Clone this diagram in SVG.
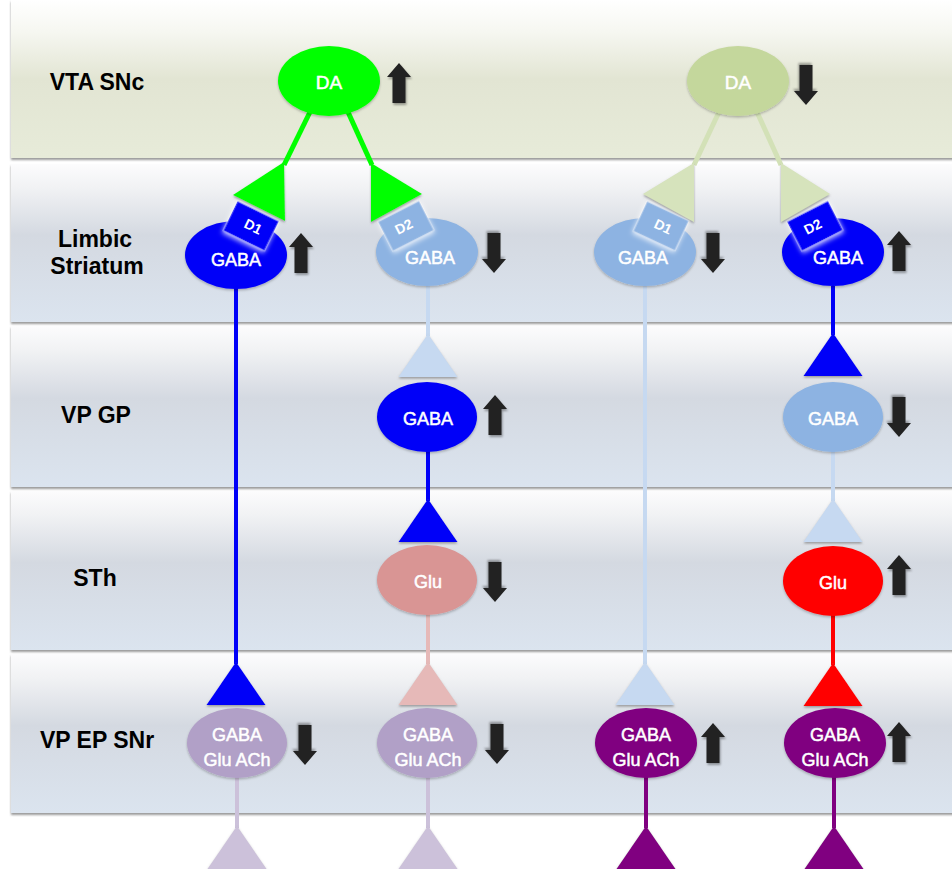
<svg xmlns="http://www.w3.org/2000/svg" xmlns:xlink="http://www.w3.org/1999/xlink" width="952" height="869" viewBox="0 0 952 869">
<defs>
<style>
.lbl{font-family:"Liberation Sans",Arial,sans-serif;font-weight:bold;font-size:23px;fill:#000;text-anchor:middle}
.nt{font-family:"Liberation Sans",Arial,sans-serif;font-size:18px;fill:#fff;stroke:#fff;stroke-width:0.5;text-anchor:middle}
.rt{font-family:"Liberation Sans",Arial,sans-serif;font-weight:bold;font-size:14px;fill:#fff;text-anchor:middle}
.band{fill:url(#gBand);filter:url(#bandSh)}
.arr{fill:#222;filter:url(#arrSh)}
.ell{filter:url(#ellSh)}
.tri{filter:url(#triSh)}
.box{stroke:#fff;stroke-opacity:0.35;stroke-width:1.5;filter:url(#boxGlow)}
.ln{fill:none;stroke-width:4}
.lnd{fill:none;stroke-width:5}
.green{fill:#00ff00}.sgreen{stroke:#00ff00}
.pale{fill:#c4d79c}.ppale{fill:#d6e3bc}.spale{stroke:#d3e1b7}
.blue{fill:#0000f8}.sblue{stroke:#0000f8}
.lblue{fill:#8db3e2}.llblue{fill:#c6d9f1}.slblue{stroke:#c6d9f1}
.pink{fill:#d99594}.lpink{fill:#e6b9b8}.spink{stroke:#e6b9b8}
.red{fill:#ff0000}.sred{stroke:#ff0000}
.lav{fill:#b1a0c7}.llav{fill:#ccc1da}.slav{stroke:#ccc1da}
.pur{fill:#800080}.spur{stroke:#800080}
</style>
<linearGradient id="gBand" x1="0" y1="0" x2="0" y2="1">
<stop offset="0" stop-color="#fcfcfd"/>
<stop offset="0.15" stop-color="#f1f2f4"/>
<stop offset="0.45" stop-color="#d4d9e1"/>
<stop offset="1" stop-color="#dbe4ef"/>
</linearGradient>
<linearGradient id="gTop" x1="0" y1="0" x2="0" y2="1">
<stop offset="0" stop-color="#ffffff"/>
<stop offset="0.2" stop-color="#f6f7f1"/>
<stop offset="0.5" stop-color="#e2e5d3"/>
<stop offset="1" stop-color="#e7ebd9"/>
</linearGradient>
<filter id="bandSh" x="-5%" y="-10%" width="110%" height="125%">
<feDropShadow dx="0" dy="2" stdDeviation="1.2" flood-color="#555" flood-opacity="0.6"/>
</filter>
<filter id="arrSh" x="-30%" y="-30%" width="170%" height="170%">
<feDropShadow dx="1" dy="2" stdDeviation="1.2" flood-color="#000" flood-opacity="0.35"/>
</filter>
<filter id="ellSh" x="-20%" y="-20%" width="140%" height="150%">
<feDropShadow dx="0" dy="1.5" stdDeviation="1.2" flood-color="#000" flood-opacity="0.25"/>
</filter>
<filter id="triSh" x="-20%" y="-20%" width="140%" height="150%">
<feDropShadow dx="0" dy="1.5" stdDeviation="0.8" flood-color="#666" flood-opacity="0.6"/>
</filter>
<filter id="boxGlow" x="-30%" y="-30%" width="160%" height="160%">
<feDropShadow dx="0" dy="2" stdDeviation="2.5" flood-color="#fff" flood-opacity="0.8"/>
</filter>
<path id="up" d="M0,-20 L12,-6 L6.5,-6 L6.5,20 L-6.5,20 L-6.5,-6 L-12,-6 Z"/>
</defs>

<rect width="952" height="869" fill="#fff"/>

<g id="bands">
<rect x="11" y="0" width="950" height="158" fill="url(#gTop)" filter="url(#bandSh)"/>
<rect class="band" x="11" y="164" width="950" height="158"/>
<rect class="band" x="11" y="326" width="950" height="161"/>
<rect class="band" x="11" y="491" width="950" height="159"/>
<rect class="band" x="11" y="654" width="950" height="159"/>
</g>

<g id="row-labels">
<text class="lbl" x="97" y="90">VTA SNc</text>
<text class="lbl" x="95" y="247">Limbic</text>
<text class="lbl" x="97" y="274">Striatum</text>
<text class="lbl" x="96" y="423">VP GP</text>
<text class="lbl" x="95" y="586">STh</text>
<text class="lbl" x="97" y="748">VP EP SNr</text>
</g>

<g id="connectors">
<line class="lnd sgreen" x1="310" y1="112" x2="284" y2="165"/>
<line class="lnd sgreen" x1="348" y1="112" x2="372" y2="165"/>
<line class="lnd spale" x1="719" y1="112" x2="694" y2="165"/>
<line class="lnd spale" x1="757" y1="112" x2="781" y2="165"/>
<polygon class="tri green" points="284,162 233,195 285,221"/>
<polygon class="tri green" points="371,163 422,194 371,222"/>
<polygon class="tri ppale" points="694,163 643,194 694,222"/>
<polygon class="tri ppale" points="781,163 830,194 781,222"/>

<line class="ln sblue" x1="236" y1="288" x2="236" y2="664"/>
<polygon class="tri blue" points="236,662 206.5,705 265.5,705"/>
<line class="ln slav" x1="237" y1="776" x2="237" y2="828"/>
<polygon class="tri llav" points="237,826 207.5,869 266.5,869"/>

<line class="ln slblue" x1="428" y1="286" x2="428" y2="336"/>
<polygon class="tri llblue" points="428,334 398.5,377 457.5,377"/>
<line class="ln sblue" x1="428" y1="450" x2="428" y2="501"/>
<polygon class="tri blue" points="428,499 398.5,542 457.5,542"/>
<line class="ln spink" x1="428" y1="613" x2="428" y2="664"/>
<polygon class="tri lpink" points="428,662 398.5,705 457.5,705"/>
<line class="ln slav" x1="428" y1="776" x2="428" y2="828"/>
<polygon class="tri llav" points="428,826 398.5,869 457.5,869"/>

<line class="ln slblue" x1="645" y1="286" x2="645" y2="664"/>
<polygon class="tri llblue" points="645,662 615.5,705 674.5,705"/>
<line class="ln spur" x1="646" y1="776" x2="646" y2="828"/>
<polygon class="tri pur" points="646,826 616.5,869 675.5,869"/>

<line class="ln sblue" x1="833" y1="286" x2="833" y2="335"/>
<polygon class="tri blue" points="833,333 803.5,376 862.5,376"/>
<line class="ln slblue" x1="833" y1="450" x2="833" y2="501"/>
<polygon class="tri llblue" points="833,499 803.5,542 862.5,542"/>
<line class="ln sred" x1="833" y1="614" x2="833" y2="665"/>
<polygon class="tri red" points="833,663 803.5,706 862.5,706"/>
<line class="ln spur" x1="834" y1="776" x2="834" y2="828"/>
<polygon class="tri pur" points="834,826 804.5,869 863.5,869"/>
</g>

<g id="da-left">
<ellipse class="ell green" cx="329" cy="81" rx="51" ry="35"/>
<text class="nt" x="329" y="89" style="font-size:19px">DA</text>
<use href="#up" class="arr" transform="translate(399,83)"/>
</g>
<g id="da-right">
<ellipse class="ell pale" cx="738" cy="81" rx="51" ry="35"/>
<text class="nt" x="738" y="89" style="font-size:19px">DA</text>
<use href="#up" class="arr" transform="translate(806,85) rotate(180)"/>
</g>

<g id="str-1">
<ellipse class="ell blue" cx="236" cy="255" rx="51" ry="34"/>
<rect class="box blue" x="-23" y="-16.5" width="46" height="33" transform="translate(251,226) rotate(26)"/>
<text class="rt" transform="translate(251,231) rotate(26)">D1</text>
<text class="nt" x="236" y="266">GABA</text>
<use href="#up" class="arr" transform="translate(301,253)"/>
</g>
<g id="str-2">
<ellipse class="ell lblue" cx="427" cy="252" rx="51" ry="34"/>
<rect class="box lblue" x="-23" y="-16.5" width="46" height="33" transform="translate(406,226) rotate(-27)"/>
<text class="rt" transform="translate(406,231) rotate(-27)">D2</text>
<text class="nt" x="430" y="264">GABA</text>
<use href="#up" class="arr" transform="translate(494,253) rotate(180)"/>
</g>
<g id="str-3">
<ellipse class="ell lblue" cx="645" cy="252" rx="51" ry="34"/>
<rect class="box lblue" x="-23" y="-16.5" width="46" height="33" transform="translate(661,226) rotate(25)"/>
<text class="rt" transform="translate(661,231) rotate(25)">D1</text>
<text class="nt" x="643" y="264">GABA</text>
<use href="#up" class="arr" transform="translate(713,253) rotate(180)"/>
</g>
<g id="str-4">
<ellipse class="ell blue" cx="833" cy="252" rx="51" ry="34"/>
<rect class="box blue" x="-23" y="-16.5" width="46" height="33" transform="translate(815,226) rotate(-27)"/>
<text class="rt" transform="translate(815,231) rotate(-27)">D2</text>
<text class="nt" x="838" y="264">GABA</text>
<use href="#up" class="arr" transform="translate(899,251)"/>
</g>

<g id="vpgp-2">
<ellipse class="ell blue" cx="427" cy="417" rx="50" ry="35"/>
<text class="nt" x="428" y="425">GABA</text>
<use href="#up" class="arr" transform="translate(495,415)"/>
</g>
<g id="vpgp-4">
<ellipse class="ell lblue" cx="833" cy="417" rx="50" ry="35"/>
<text class="nt" x="833" y="425">GABA</text>
<use href="#up" class="arr" transform="translate(899,417) rotate(180)"/>
</g>

<g id="sth-2">
<ellipse class="ell pink" cx="427" cy="580" rx="50" ry="35"/>
<text class="nt" x="428" y="588">Glu</text>
<use href="#up" class="arr" transform="translate(495,582) rotate(180)"/>
</g>
<g id="sth-4">
<ellipse class="ell red" cx="833" cy="581" rx="50" ry="35"/>
<text class="nt" x="833" y="589">Glu</text>
<use href="#up" class="arr" transform="translate(899,575)"/>
</g>

<g id="out-1">
<ellipse class="ell lav" cx="237" cy="743" rx="50" ry="35"/>
<text class="nt" x="237" y="741">GABA</text>
<text class="nt" x="237" y="766">Glu ACh</text>
<use href="#up" class="arr" transform="translate(305,745) rotate(180)"/>
</g>
<g id="out-2">
<ellipse class="ell lav" cx="427" cy="743" rx="50" ry="35"/>
<text class="nt" x="428" y="741">GABA</text>
<text class="nt" x="428" y="766">Glu ACh</text>
<use href="#up" class="arr" transform="translate(497,744) rotate(180)"/>
</g>
<g id="out-3">
<ellipse class="ell pur" cx="646" cy="743" rx="51" ry="35"/>
<text class="nt" x="646" y="741">GABA</text>
<text class="nt" x="646" y="766">Glu ACh</text>
<use href="#up" class="arr" transform="translate(713,743)"/>
</g>
<g id="out-4">
<ellipse class="ell pur" cx="835" cy="743" rx="51" ry="35"/>
<text class="nt" x="835" y="741">GABA</text>
<text class="nt" x="835" y="766">Glu ACh</text>
<use href="#up" class="arr" transform="translate(899,742)"/>
</g>
</svg>
